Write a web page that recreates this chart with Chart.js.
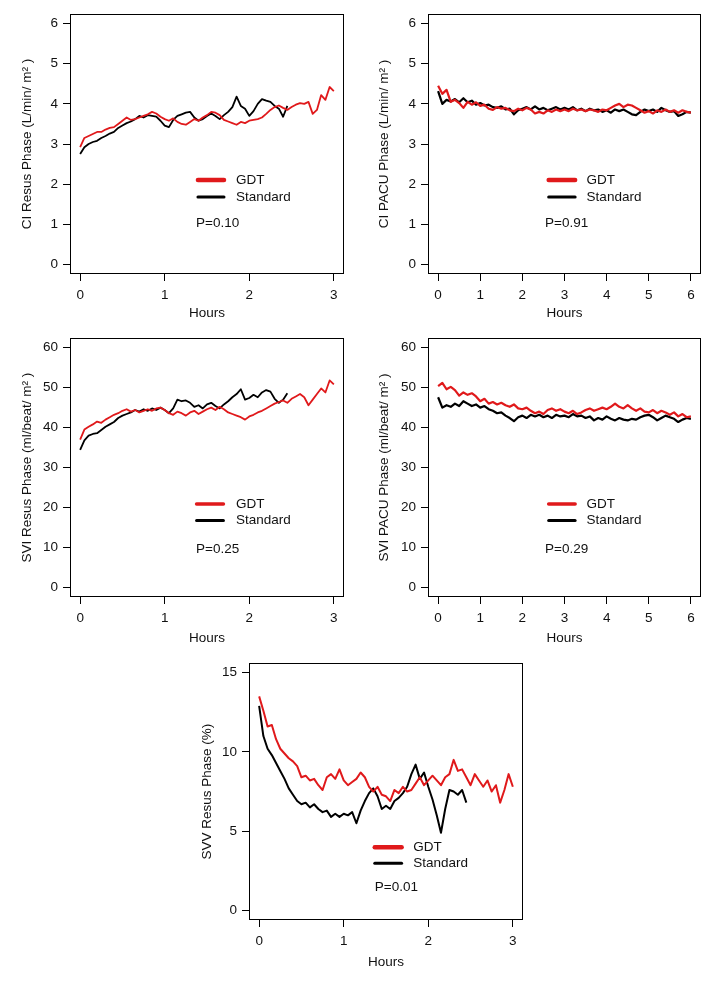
<!DOCTYPE html>
<html>
<head>
<meta charset="utf-8">
<script src="https://cdn.jsdelivr.net/npm/chart.js@4.4.1/dist/chart.umd.min.js"></script>
<style>
  body { margin: 0; background: #fff; }
  #page { position: relative; width: 714px; height: 981px; overflow: hidden; background: #fff; }
  canvas { position: absolute; }
</style>
</head>
<body>
<div id="page">
  <canvas id="ciResus" width="357" height="325" style="left:0;top:0"></canvas>
  <canvas id="ciPacu" width="357" height="325" style="left:357px;top:0"></canvas>
  <canvas id="sviResus" width="357" height="325" style="left:0;top:325px"></canvas>
  <canvas id="sviPacu" width="357" height="325" style="left:357px;top:325px"></canvas>
  <canvas id="svvResus" width="357" height="331" style="left:180px;top:650px"></canvas>
</div>
<script>
// time grids (hours)
const resusHours = [0, 0.05, 0.1, 0.15, 0.2, 0.25, 0.3, 0.35, 0.4, 0.45, 0.5, 0.55, 0.6, 0.65, 0.7, 0.75, 0.8, 0.85, 0.9, 0.95,
  1, 1.05, 1.1, 1.15, 1.2, 1.25, 1.3, 1.35, 1.4, 1.45, 1.5, 1.55, 1.6, 1.65, 1.7, 1.75, 1.8, 1.85, 1.9, 1.95,
  2, 2.05, 2.1, 2.15, 2.2, 2.25, 2.3, 2.35, 2.4, 2.45, 2.5, 2.55, 2.6, 2.65, 2.7, 2.75, 2.8, 2.85, 2.9, 2.95, 3];
const pacuHours = [0, 0.1, 0.2, 0.3, 0.4, 0.5, 0.6, 0.7, 0.8, 0.9, 1, 1.1, 1.2, 1.3, 1.4, 1.5, 1.6, 1.7, 1.8, 1.9,
  2, 2.1, 2.2, 2.3, 2.4, 2.5, 2.6, 2.7, 2.8, 2.9, 3, 3.1, 3.2, 3.3, 3.4, 3.5, 3.6, 3.7, 3.8, 3.9,
  4, 4.1, 4.2, 4.3, 4.4, 4.5, 4.6, 4.7, 4.8, 4.9, 5, 5.1, 5.2, 5.3, 5.4, 5.5, 5.6, 5.7, 5.8, 5.9, 6];

const seriesNames = ['GDT', 'Standard'];

// CI (L/min/m2)
const ciResusGdt = [2.92, 3.15, 3.20, 3.25, 3.30, 3.30, 3.36, 3.40, 3.42, 3.50,
  3.58, 3.66, 3.60, 3.62, 3.66, 3.70, 3.74, 3.80, 3.76, 3.68,
  3.62, 3.58, 3.64, 3.55, 3.50, 3.48, 3.55, 3.62, 3.58, 3.66,
  3.72, 3.80, 3.78, 3.72, 3.60, 3.56, 3.52, 3.48, 3.55, 3.52,
  3.58, 3.60, 3.62, 3.66, 3.75, 3.85, 3.92, 3.96, 3.90, 3.85,
  3.92, 3.98, 4.02, 4.00, 4.05, 3.75, 3.85, 4.22, 4.10, 4.42, 4.32];
const ciResusStandard = [2.75, 2.92, 3.00, 3.05, 3.08, 3.15, 3.20, 3.26, 3.30, 3.40,
  3.46, 3.52, 3.56, 3.62, 3.70, 3.66, 3.72, 3.70, 3.68, 3.58,
  3.46, 3.42, 3.60, 3.70, 3.74, 3.78, 3.80, 3.66, 3.58, 3.62,
  3.70, 3.76, 3.70, 3.62, 3.72, 3.80, 3.92, 4.18, 3.95, 3.88,
  3.70, 3.82, 4.00, 4.12, 4.08, 4.05, 3.95, 3.88, 3.68, 3.95];
const ciPacuGdt = [4.45, 4.25, 4.35, 4.05, 4.10, 4.02, 3.90, 4.05, 3.98, 4.04,
  3.95, 3.98, 3.88, 3.85, 3.92, 3.88, 3.90, 3.84, 3.82, 3.88,
  3.84, 3.90, 3.86, 3.76, 3.80, 3.76, 3.84, 3.80, 3.86, 3.82,
  3.86, 3.82, 3.88, 3.84, 3.86, 3.82, 3.86, 3.84, 3.80, 3.86,
  3.84, 3.90, 3.96, 4.00, 3.92, 3.98, 3.96, 3.90, 3.84, 3.78,
  3.82, 3.76, 3.84, 3.80, 3.86, 3.80, 3.84, 3.78, 3.84, 3.80, 3.78];
const ciPacuStandard = [4.32, 4.00, 4.10, 4.06, 4.12, 4.04, 4.14, 4.04, 4.08, 3.98,
  4.02, 3.96, 3.98, 3.92, 3.90, 3.94, 3.86, 3.88, 3.74, 3.84,
  3.88, 3.92, 3.86, 3.94, 3.86, 3.90, 3.84, 3.88, 3.92, 3.86,
  3.90, 3.86, 3.92, 3.84, 3.88, 3.82, 3.88, 3.84, 3.86, 3.80,
  3.84, 3.78, 3.86, 3.82, 3.86, 3.80, 3.74, 3.72, 3.80, 3.86,
  3.82, 3.86, 3.80, 3.90, 3.84, 3.80, 3.82, 3.70, 3.74, 3.80, 3.78];

// SVI (ml/beat/m2)
const sviResusGdt = [37.0, 39.5, 40.2, 40.8, 41.5, 41.2, 42.0, 42.6, 43.2, 43.6,
  44.2, 44.6, 44.0, 44.4, 43.8, 44.2, 44.6, 44.2, 44.8, 45.0,
  44.4, 43.6, 43.2, 44.0, 43.6, 43.0, 43.8, 44.2, 43.4, 44.0,
  44.6, 45.0, 44.4, 45.2, 44.6, 43.8, 43.4, 43.0, 42.6, 42.0,
  42.8, 43.2, 43.8, 44.2, 44.8, 45.4, 46.0, 46.4, 46.8, 46.2,
  47.2, 47.8, 48.4, 47.6, 45.6, 47.0, 48.4, 49.8, 48.8, 51.8, 50.8];
const sviResusStandard = [34.4, 36.8, 38.0, 38.4, 38.6, 39.4, 40.2, 40.8, 41.4, 42.4,
  43.0, 43.4, 43.8, 44.4, 44.0, 44.6, 44.2, 44.8, 44.4, 45.0,
  44.4, 43.6, 44.8, 47.0, 46.6, 46.8, 46.2, 45.2, 45.6, 44.8,
  45.8, 46.2, 45.4, 44.8, 45.8, 46.6, 47.6, 48.4, 49.6, 47.0,
  47.4, 48.2, 47.6, 48.8, 49.4, 49.0, 47.2, 46.2, 47.0, 48.6];
const sviPacuGdt = [50.4, 51.2, 49.6, 50.2, 49.4, 48.0, 48.8, 48.2, 48.6, 47.8,
  46.6, 47.2, 46.0, 46.4, 45.8, 46.2, 45.6, 45.2, 45.8, 44.8,
  44.6, 45.0, 44.2, 43.6, 44.0, 43.4, 44.4, 44.8, 44.2, 44.6,
  44.0, 43.6, 44.2, 43.4, 43.8, 44.4, 44.8, 44.2, 44.6, 45.0,
  44.6, 45.2, 46.0, 45.2, 44.8, 45.6, 44.8, 44.2, 44.8, 44.0,
  43.8, 44.4, 43.6, 44.2, 43.8, 43.2, 43.8, 42.8, 43.4, 42.6, 42.8];
const sviPacuStandard = [47.6, 45.0, 45.6, 45.2, 46.0, 45.4, 46.6, 46.0, 45.4, 45.8,
  45.0, 45.4, 44.6, 44.2, 43.6, 43.8, 43.0, 42.4, 41.6, 42.6,
  43.0, 42.4, 43.2, 42.8, 43.2, 42.6, 43.0, 42.4, 43.2, 42.8,
  43.0, 42.6, 43.4, 42.8, 43.0, 42.4, 42.8, 41.8, 42.4, 42.0,
  42.8, 42.2, 41.8, 42.4, 42.0, 41.8, 42.2, 42.0, 42.6, 43.0,
  43.2, 42.6, 41.8, 42.4, 43.0, 42.6, 42.2, 41.4, 42.0, 42.4, 42.2];

// SVV (%)
const svvResusGdt = [13.5, 12.6, 11.6, 11.7, 10.8, 10.2, 9.9, 9.6, 9.4, 9.1,
  8.4, 8.5, 8.2, 8.3, 7.9, 7.6, 8.4, 8.6, 8.3, 8.9,
  8.2, 7.9, 8.1, 8.3, 8.7, 8.4, 7.8, 7.5, 7.8, 7.3,
  7.2, 6.9, 7.6, 7.4, 7.8, 7.5, 7.6, 8.0, 8.4, 7.9,
  8.2, 8.5, 8.2, 7.9, 8.4, 8.6, 9.5, 8.8, 8.9, 8.4,
  7.9, 8.6, 8.2, 7.8, 8.2, 7.5, 7.9, 6.8, 7.6, 8.6, 7.8];
const svvResusStandard = [12.9, 11.0, 10.2, 9.8, 9.3, 8.8, 8.3, 7.7, 7.3, 6.9,
  6.7, 6.8, 6.5, 6.7, 6.4, 6.2, 6.3, 5.9, 6.1, 5.9,
  6.1, 6.0, 6.2, 5.5, 6.3, 6.9, 7.4, 7.7, 7.2, 6.4,
  6.6, 6.4, 6.9, 7.1, 7.4, 7.8, 8.6, 9.2, 8.3, 8.7,
  7.8, 7.0, 6.0, 4.9, 6.4, 7.6, 7.5, 7.3, 7.6, 6.8];

// axis ticks
const ciTicks = [0, 1, 2, 3, 4, 5, 6];
const sviTicks = [0, 10, 20, 30, 40, 50, 60];
const svvTicks = [0, 5, 10, 15];
const resusHourTicks = [0, 1, 2, 3];
const pacuHourTicks = [0, 1, 2, 3, 4, 5, 6];

const RED = '#e0191b';
const BLACK = '#000000';
const FONT = { family: "'Liberation Sans', Arial, Helvetica, sans-serif", size: 13.5 };

// draws the box around the plot and the little legend with the p value
const framePlugin = {
  id: 'frameLegend',
  afterDatasetsDraw(chart, args, opts) {
    const { ctx, chartArea: a } = chart;
    const w = a.right - a.left, h = a.bottom - a.top;
    ctx.save();
    ctx.strokeStyle = '#000';
    ctx.lineWidth = 1;
    ctx.strokeRect(Math.round(a.left) + 0.5, Math.round(a.top) + 0.5,
      Math.round(w) - 1, Math.round(h) - 1);

    ctx.font = FONT.size + 'px ' + FONT.family;
    ctx.fillStyle = '#111';
    ctx.textBaseline = 'middle';
    ctx.lineCap = 'round';
    const rows = [opts.row1, opts.row2];
    chart.data.datasets.forEach((ds, i) => {
      const y = a.top + h * rows[i];
      ctx.strokeStyle = ds.borderColor;
      ctx.lineWidth = i === 0 ? opts.redWidth : 3;
      ctx.beginPath();
      ctx.moveTo(a.left + w * opts.x0, y);
      ctx.lineTo(a.left + w * opts.x1, y);
      ctx.stroke();
      ctx.fillText(ds.label, a.left + w * opts.tx, y);
    });
    ctx.fillText(opts.p, a.left + w * opts.px, a.top + h * opts.py);
    ctx.restore();
  }
};

function toPoints(hours, values) {
  return values.map((v, i) => ({ x: hours[i], y: v }));
}

function makePanel(id, cfg) {
  const yAxisW = cfg.area[0];
  new Chart(document.getElementById(id), {
    type: 'line',
    data: {
      datasets: [
        { label: seriesNames[0], data: toPoints(cfg.hours, cfg.gdt), borderColor: RED, borderWidth: cfg.lw },
        { label: seriesNames[1], data: toPoints(cfg.hours, cfg.std), borderColor: BLACK, borderWidth: cfg.lw }
      ]
    },
    options: {
      responsive: false,
      animation: false,
      elements: { point: { radius: 0 }, line: { tension: 0, borderJoinStyle: 'round' } },
      layout: { padding: { left: 0, top: cfg.area[1], right: cfg.area[2], bottom: cfg.padBottom } },
      plugins: {
        legend: { display: false },
        tooltip: { enabled: false },
        frameLegend: cfg.legend
      },
      scales: {
        x: {
          type: 'linear',
          min: cfg.xRange[0],
          max: cfg.xRange[1],
          afterBuildTicks: s => { s.ticks = cfg.xTicks.map(v => ({ value: v })); },
          afterFit: s => { s.height = cfg.xAxisH; },
          border: { display: false },
          grid: { drawOnChartArea: false, drawTicks: true, tickLength: 7, color: '#000' },
          ticks: { color: '#111', font: FONT, padding: 6, maxRotation: 0, autoSkip: false },
          title: { display: true, text: 'Hours', color: '#111', font: FONT, padding: { top: 0, bottom: 4 } }
        },
        y: {
          min: cfg.yRange[0],
          max: cfg.yRange[1],
          afterBuildTicks: s => { s.ticks = cfg.yTicks.map(v => ({ value: v })); },
          afterFit: s => { s.width = yAxisW; },
          border: { display: false },
          grid: { drawOnChartArea: false, drawTicks: true, tickLength: 7, color: '#000' },
          ticks: { color: '#111', font: FONT, padding: 5, autoSkip: false },
          title: { display: true, text: cfg.yTitle, color: '#111', font: FONT, padding: { top: 19, bottom: 0 } }
        }
      }
    },
    plugins: [framePlugin]
  });
}

const legendTop = { row1: 0.638, row2: 0.704, py: 0.804, redWidth: 4.5 };

makePanel('ciResus', {
  hours: resusHours, gdt: ciResusGdt, std: ciResusStandard, lw: 1.8,
  xRange: [-0.12, 3.12], yRange: [-0.24, 6.24], xTicks: resusHourTicks, yTicks: ciTicks,
  yTitle: 'CI Resus Phase (L/min/ m² )',
  area: [70, 14, 13], xAxisH: 51, padBottom: 0,
  legend: Object.assign({}, legendTop, { x0: 0.467, x1: 0.562, tx: 0.606, px: 0.46, p: 'P=0.10' })
});
makePanel('ciPacu', {
  hours: pacuHours, gdt: ciPacuGdt, std: ciPacuStandard, lw: 2.2,
  xRange: [-0.24, 6.24], yRange: [-0.24, 6.24], xTicks: pacuHourTicks, yTicks: ciTicks,
  yTitle: 'CI PACU Phase (L/min/ m² )',
  area: [71, 14, 13], xAxisH: 51, padBottom: 0,
  legend: Object.assign({}, legendTop, { x0: 0.442, x1: 0.539, tx: 0.581, px: 0.429, p: 'P=0.91' })
});
makePanel('sviResus', {
  hours: resusHours, gdt: sviResusGdt, std: sviResusStandard, lw: 1.8,
  xRange: [-0.12, 3.12], yRange: [-2.4, 62.4], xTicks: resusHourTicks, yTicks: sviTicks,
  yTitle: 'SVI Resus Phase (ml/beat/ m² )',
  area: [70, 12, 13], xAxisH: 53, padBottom: 0,
  legend: { row1: 0.641, row2: 0.705, py: 0.814, redWidth: 3.5, x0: 0.462, x1: 0.56, tx: 0.606, px: 0.46, p: 'P=0.25' }
});
makePanel('sviPacu', {
  hours: pacuHours, gdt: sviPacuGdt, std: sviPacuStandard, lw: 2.2,
  xRange: [-0.24, 6.24], yRange: [-2.4, 62.4], xTicks: pacuHourTicks, yTicks: sviTicks,
  yTitle: 'SVI PACU Phase (ml/beat/ m² )',
  area: [71, 12, 13], xAxisH: 53, padBottom: 0,
  legend: { row1: 0.641, row2: 0.705, py: 0.814, redWidth: 3.5, x0: 0.442, x1: 0.539, tx: 0.581, px: 0.429, p: 'P=0.29' }
});
makePanel('svvResus', {
  hours: resusHours, gdt: svvResusGdt, std: svvResusStandard, lw: 2,
  xRange: [-0.12, 3.12], yRange: [-0.6, 15.6], xTicks: resusHourTicks, yTicks: svvTicks,
  yTitle: 'SVV Resus Phase (%)',
  area: [69, 13, 14], xAxisH: 54, padBottom: 7,
  legend: { row1: 0.717, row2: 0.779, py: 0.873, redWidth: 4.5, x0: 0.459, x1: 0.557, tx: 0.599, px: 0.459, p: 'P=0.01' }
});
</script>
</body>
</html>
